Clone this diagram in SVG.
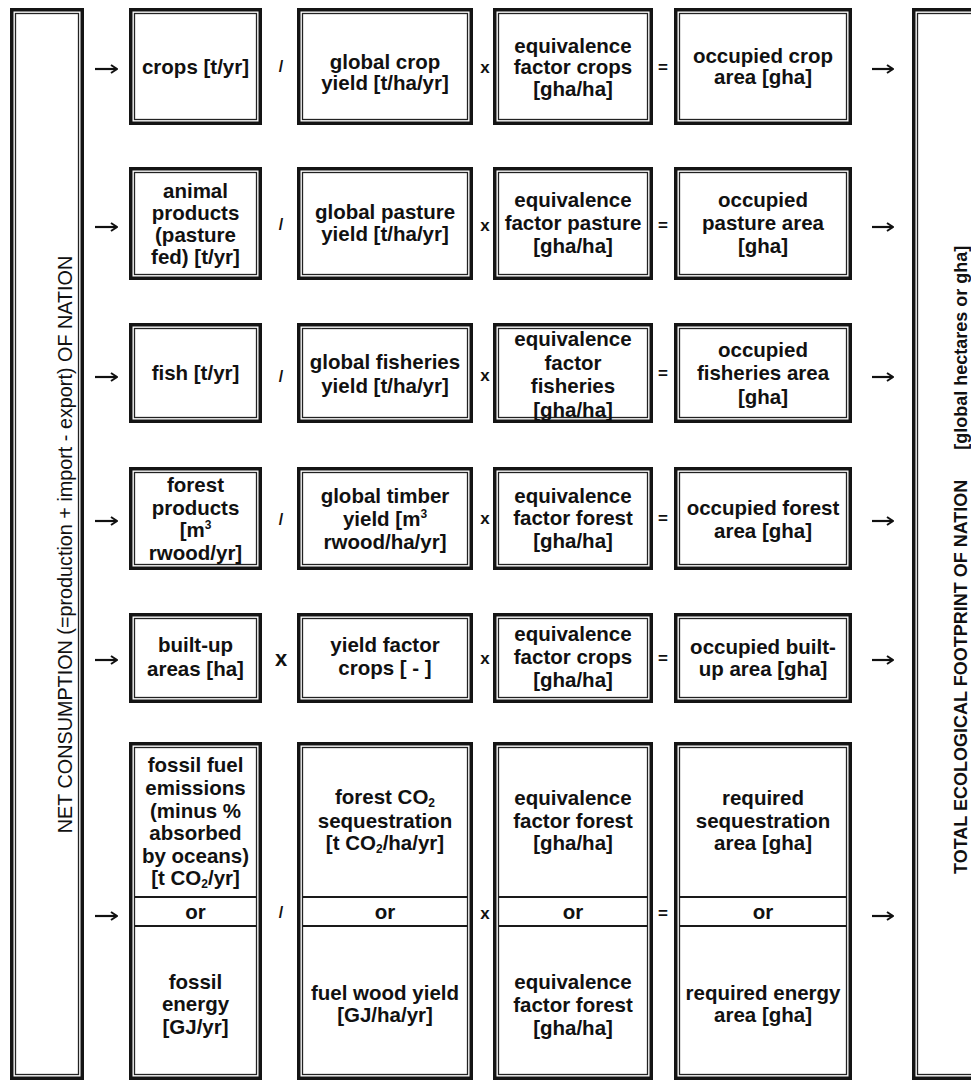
<svg xmlns="http://www.w3.org/2000/svg" width="971" height="1081" viewBox="0 0 971 1081">
<defs>
<style>
.b{fill:#fff;stroke:#141414;stroke-width:3.5}
.i{fill:none;stroke:#222;stroke-width:1.3}
.dv{stroke:#1a1a1a;stroke-width:2}
.t{font-family:"Liberation Sans",Arial,sans-serif;font-size:20.5px;font-weight:bold;fill:#111;text-anchor:middle}
.op{font-family:"Liberation Sans",Arial,sans-serif;font-size:17px;font-weight:bold;fill:#111;text-anchor:middle}
.sl{font-size:16px}
.cn{fill:none;stroke:#111;stroke-width:2.2;marker-end:url(#ah)}
.lt{font-family:"Liberation Sans",Arial,sans-serif;font-size:19.8px;fill:#111;text-anchor:middle}
.rt{font-family:"Liberation Sans",Arial,sans-serif;font-size:18px;font-weight:bold;fill:#111}
.sup{font-size:12px}
.sub{font-size:12px}
</style>
<marker id="ah" viewBox="0 0 8 10" refX="7" refY="5" markerWidth="8" markerHeight="10" markerUnits="userSpaceOnUse" orient="auto">
<path d="M1,1 L7,5 L1,9" fill="none" stroke="#111" stroke-width="2"/>
</marker>
</defs>
<rect x="0" y="0" width="971" height="1081" fill="#fff"/>

<g id="left-panel">
<rect class="b" x="11.75" y="9.75" width="70.5" height="1068.5"/>
<rect class="i" x="15.5" y="13.5" width="63" height="1061"/>
<text class="lt" x="72" y="544.5" transform="rotate(-90 72 544.5)">NET CONSUMPTION (=production + import - export) OF NATION</text>
</g>

<g id="right-panel">
<rect class="b" x="913.75" y="9.75" width="80" height="1068.5"/>
<rect class="i" x="917.5" y="13.5" width="80" height="1061"/>
<text class="rt" x="967" y="874" transform="rotate(-90 967 874)">TOTAL ECOLOGICAL FOOTPRINT OF NATION<tspan dx="30">[global hectares or gha]</tspan></text>
</g>

<!-- Row 1 -->
<g id="crops">
<rect class="b" x="130.75" y="9.75" width="129.5" height="113.5"/><rect class="i" x="134.5" y="13.5" width="122" height="106"/>
<text class="t"><tspan x="195.5" y="74">crops [t/yr]</tspan></text>
</g>
<g id="global-crop-yield">
<rect class="b" x="298.75" y="9.75" width="172.5" height="113.5"/><rect class="i" x="302.5" y="13.5" width="165" height="106"/>
<text class="t"><tspan x="385" y="69">global crop</tspan><tspan x="385" y="90">yield [t/ha/yr]</tspan></text>
</g>
<g id="eq-factor-crops">
<rect class="b" x="494.75" y="9.75" width="156.5" height="113.5"/><rect class="i" x="498.5" y="13.5" width="149" height="106"/>
<text class="t"><tspan x="573" y="53">equivalence</tspan><tspan x="573" y="74">factor crops</tspan><tspan x="573" y="96">[gha/ha]</tspan></text>
</g>
<g id="occupied-crop-area">
<rect class="b" x="675.75" y="9.75" width="174.5" height="113.5"/><rect class="i" x="679.5" y="13.5" width="167" height="106"/>
<text class="t"><tspan x="763" y="63">occupied crop</tspan><tspan x="763" y="84">area [gha]</tspan></text>
</g>

<!-- Row 2 -->
<g id="animal-products">
<rect class="b" x="130.75" y="168.75" width="129.5" height="109.5"/><rect class="i" x="134.5" y="172.5" width="122" height="102"/>
<text class="t"><tspan x="195.5" y="198">animal</tspan><tspan x="195.5" y="220">products</tspan><tspan x="195.5" y="242">(pasture</tspan><tspan x="195.5" y="264">fed) [t/yr]</tspan></text>
</g>
<g id="global-pasture-yield">
<rect class="b" x="298.75" y="168.75" width="172.5" height="109.5"/><rect class="i" x="302.5" y="172.5" width="165" height="102"/>
<text class="t"><tspan x="385" y="219">global pasture</tspan><tspan x="385" y="241">yield [t/ha/yr]</tspan></text>
</g>
<g id="eq-factor-pasture">
<rect class="b" x="494.75" y="168.75" width="156.5" height="109.5"/><rect class="i" x="498.5" y="172.5" width="149" height="102"/>
<text class="t"><tspan x="573" y="207">equivalence</tspan><tspan x="573" y="230">factor pasture</tspan><tspan x="573" y="253">[gha/ha]</tspan></text>
</g>
<g id="occupied-pasture-area">
<rect class="b" x="675.75" y="168.75" width="174.5" height="109.5"/><rect class="i" x="679.5" y="172.5" width="167" height="102"/>
<text class="t"><tspan x="763" y="207">occupied</tspan><tspan x="763" y="230">pasture area</tspan><tspan x="763" y="253">[gha]</tspan></text>
</g>

<!-- Row 3 -->
<g id="fish">
<rect class="b" x="130.75" y="324.75" width="129.5" height="96.5"/><rect class="i" x="134.5" y="328.5" width="122" height="89"/>
<text class="t"><tspan x="195.5" y="380">fish [t/yr]</tspan></text>
</g>
<g id="global-fisheries-yield">
<rect class="b" x="298.75" y="324.75" width="172.5" height="96.5"/><rect class="i" x="302.5" y="328.5" width="165" height="89"/>
<text class="t"><tspan x="385" y="369">global fisheries</tspan><tspan x="385" y="393">yield [t/ha/yr]</tspan></text>
</g>
<g id="eq-factor-fisheries">
<rect class="b" x="494.75" y="324.75" width="156.5" height="96.5"/><rect class="i" x="498.5" y="328.5" width="149" height="89"/>
<text class="t"><tspan x="573" y="346">equivalence</tspan><tspan x="573" y="369.5">factor</tspan><tspan x="573" y="393">fisheries</tspan><tspan x="573" y="416.5">[gha/ha]</tspan></text>
</g>
<g id="occupied-fisheries-area">
<rect class="b" x="675.75" y="324.75" width="174.5" height="96.5"/><rect class="i" x="679.5" y="328.5" width="167" height="89"/>
<text class="t"><tspan x="763" y="357">occupied</tspan><tspan x="763" y="380">fisheries area</tspan><tspan x="763" y="404">[gha]</tspan></text>
</g>

<!-- Row 4 -->
<g id="forest-products">
<rect class="b" x="130.75" y="468.75" width="129.5" height="99.5"/><rect class="i" x="134.5" y="472.5" width="122" height="92"/>
<text class="t"><tspan x="195.5" y="492">forest</tspan><tspan x="195.5" y="514.5">products</tspan><tspan x="195.5" y="537">[m<tspan class="sup" dy="-8">3</tspan></tspan><tspan x="195.5" y="559.5">rwood/yr]</tspan></text>
</g>
<g id="global-timber-yield">
<rect class="b" x="298.75" y="468.75" width="172.5" height="99.5"/><rect class="i" x="302.5" y="472.5" width="165" height="92"/>
<text class="t"><tspan x="385" y="503">global timber</tspan><tspan x="385" y="526">yield [m<tspan class="sup" dy="-8">3</tspan></tspan><tspan x="385" y="549">rwood/ha/yr]</tspan></text>
</g>
<g id="eq-factor-forest">
<rect class="b" x="494.75" y="468.75" width="156.5" height="99.5"/><rect class="i" x="498.5" y="472.5" width="149" height="92"/>
<text class="t"><tspan x="573" y="502.5">equivalence</tspan><tspan x="573" y="525">factor forest</tspan><tspan x="573" y="547.5">[gha/ha]</tspan></text>
</g>
<g id="occupied-forest-area">
<rect class="b" x="675.75" y="468.75" width="174.5" height="99.5"/><rect class="i" x="679.5" y="472.5" width="167" height="92"/>
<text class="t"><tspan x="763" y="515">occupied forest</tspan><tspan x="763" y="537.5">area [gha]</tspan></text>
</g>

<!-- Row 5 -->
<g id="built-up-areas">
<rect class="b" x="130.75" y="614.75" width="129.5" height="86.5"/><rect class="i" x="134.5" y="618.5" width="122" height="79"/>
<text class="t"><tspan x="195.5" y="652">built-up</tspan><tspan x="195.5" y="676">areas [ha]</tspan></text>
</g>
<g id="yield-factor-crops">
<rect class="b" x="298.75" y="614.75" width="172.5" height="86.5"/><rect class="i" x="302.5" y="618.5" width="165" height="79"/>
<text class="t"><tspan x="385" y="652">yield factor</tspan><tspan x="385" y="675">crops [ - ]</tspan></text>
</g>
<g id="eq-factor-crops-2">
<rect class="b" x="494.75" y="614.75" width="156.5" height="86.5"/><rect class="i" x="498.5" y="618.5" width="149" height="79"/>
<text class="t"><tspan x="573" y="641">equivalence</tspan><tspan x="573" y="664">factor crops</tspan><tspan x="573" y="687">[gha/ha]</tspan></text>
</g>
<g id="occupied-built-up-area">
<rect class="b" x="675.75" y="614.75" width="174.5" height="86.5"/><rect class="i" x="679.5" y="618.5" width="167" height="79"/>
<text class="t"><tspan x="763" y="654">occupied built-</tspan><tspan x="763" y="676">up area [gha]</tspan></text>
</g>

<!-- Row 6 -->
<g id="fossil">
<rect class="b" x="130.75" y="743.75" width="129.5" height="334.5"/><rect class="i" x="134.5" y="747.5" width="122" height="327"/>
<line class="dv" x1="134.5" y1="897" x2="256.5" y2="897"/><line class="dv" x1="134.5" y1="926" x2="256.5" y2="926"/>
<text class="t"><tspan x="195.5" y="772">fossil fuel</tspan><tspan x="195.5" y="795">emissions</tspan><tspan x="195.5" y="817.5">(minus %</tspan><tspan x="195.5" y="840">absorbed</tspan><tspan x="195.5" y="862.5">by oceans)</tspan><tspan x="195.5" y="885">[t CO<tspan class="sub" dy="3">2</tspan><tspan dy="-3">/yr]</tspan></tspan></text>
<text class="t"><tspan x="195.5" y="919">or</tspan></text>
<text class="t"><tspan x="195.5" y="988.5">fossil</tspan><tspan x="195.5" y="1011">energy</tspan><tspan x="195.5" y="1034">[GJ/yr]</tspan></text>
</g>
<g id="sequestration-yield">
<rect class="b" x="298.75" y="743.75" width="172.5" height="334.5"/><rect class="i" x="302.5" y="747.5" width="165" height="327"/>
<line class="dv" x1="302.5" y1="897" x2="467.5" y2="897"/><line class="dv" x1="302.5" y1="926" x2="467.5" y2="926"/>
<text class="t"><tspan x="385" y="804">forest CO<tspan class="sub" dy="3">2</tspan></tspan><tspan x="385" y="828">sequestration</tspan><tspan x="385" y="850">[t CO<tspan class="sub" dy="3">2</tspan><tspan dy="-3">/ha/yr]</tspan></tspan></text>
<text class="t"><tspan x="385" y="919">or</tspan></text>
<text class="t"><tspan x="385" y="1000">fuel wood yield</tspan><tspan x="385" y="1022">[GJ/ha/yr]</tspan></text>
</g>
<g id="eq-factor-forest-2">
<rect class="b" x="494.75" y="743.75" width="156.5" height="334.5"/><rect class="i" x="498.5" y="747.5" width="149" height="327"/>
<line class="dv" x1="498.5" y1="897" x2="647.5" y2="897"/><line class="dv" x1="498.5" y1="926" x2="647.5" y2="926"/>
<text class="t"><tspan x="573" y="805">equivalence</tspan><tspan x="573" y="828">factor forest</tspan><tspan x="573" y="850">[gha/ha]</tspan></text>
<text class="t"><tspan x="573" y="919">or</tspan></text>
<text class="t"><tspan x="573" y="989">equivalence</tspan><tspan x="573" y="1012">factor forest</tspan><tspan x="573" y="1035">[gha/ha]</tspan></text>
</g>
<g id="required-area">
<rect class="b" x="675.75" y="743.75" width="174.5" height="334.5"/><rect class="i" x="679.5" y="747.5" width="167" height="327"/>
<line class="dv" x1="679.5" y1="897" x2="846.5" y2="897"/><line class="dv" x1="679.5" y1="926" x2="846.5" y2="926"/>
<text class="t"><tspan x="763" y="805">required</tspan><tspan x="763" y="828">sequestration</tspan><tspan x="763" y="850">area [gha]</tspan></text>
<text class="t"><tspan x="763" y="919">or</tspan></text>
<text class="t"><tspan x="763" y="1000">required energy</tspan><tspan x="763" y="1022">area [gha]</tspan></text>
</g>

<g id="operators">
<text class="op sl" x="281" y="72">/</text><text class="op" x="485" y="73">x</text><text class="op" x="663" y="73">=</text>
<text class="op sl" x="281" y="230">/</text><text class="op" x="485" y="231">x</text><text class="op" x="663" y="231">=</text>
<text class="op sl" x="281" y="382">/</text><text class="op" x="485" y="381">x</text><text class="op" x="663" y="379">=</text>
<text class="op sl" x="281" y="525">/</text><text class="op" x="485" y="524">x</text><text class="op" x="663" y="524">=</text>
<text class="op" x="281" y="666" style="font-size:22px">x</text><text class="op" x="485" y="664">x</text><text class="op" x="663" y="664">=</text>
<text class="op sl" x="281" y="918">/</text><text class="op" x="485" y="919">x</text><text class="op" x="663" y="919">=</text>
</g>

<g id="connectors">
<path class="cn" d="M95,69 H117"/><path class="cn" d="M872,69 H893"/>
<path class="cn" d="M95,227 H117"/><path class="cn" d="M872,227 H893"/>
<path class="cn" d="M95,377 H117"/><path class="cn" d="M872,377 H893"/>
<path class="cn" d="M95,521 H117"/><path class="cn" d="M872,521 H893"/>
<path class="cn" d="M95,660 H117"/><path class="cn" d="M872,660 H893"/>
<path class="cn" d="M95,916 H117"/><path class="cn" d="M872,916 H893"/>
</g>
</svg>
